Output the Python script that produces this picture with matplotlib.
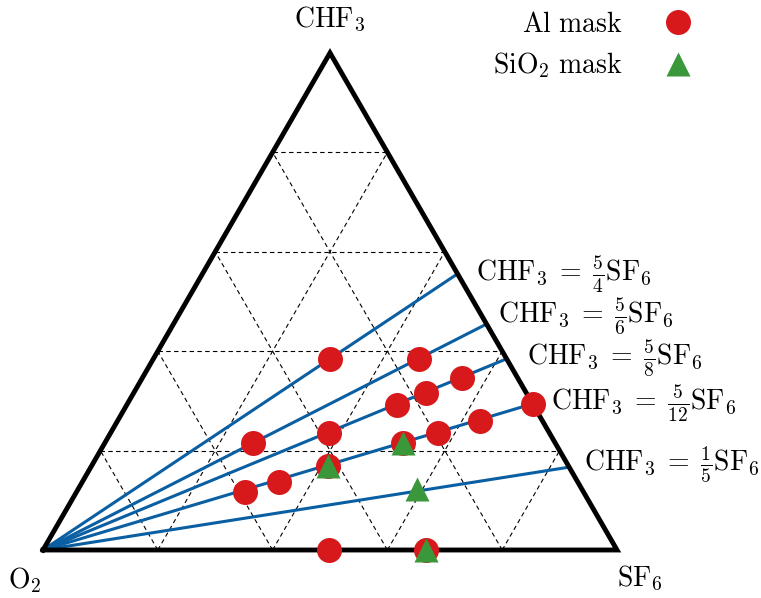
import matplotlib
matplotlib.use("Agg")
import matplotlib.pyplot as plt
import numpy as np

plt.rcParams['mathtext.fontset'] = 'cm'

# mole fractions (CHF3, SF6, O2)
al_chf3 = [0.385, 0.385, 0.347, 0.316, 0.292, 0.294, 0.260, 0.235, 0.215, 0.215, 0.235, 0.169, 0.137, 0.117, 0.0, 0.0]
al_sf6 = [0.308, 0.462, 0.556, 0.510, 0.470, 0.706, 0.632, 0.570, 0.520, 0.259, 0.380, 0.412, 0.343, 0.293, 0.498, 0.667]
sio2_chf3 = [0.215, 0.169, 0.123, 0.0]
sio2_sf6 = [0.520, 0.412, 0.590, 0.667]

ratio_values = [5/4, 5/6, 5/8, 5/12, 1/5]
ratio_labels = [r'\frac{5}{4}', r'\frac{5}{6}', r'\frac{5}{8}', r'\frac{5}{12}', r'\frac{1}{5}']
grid_steps = [0.2, 0.4, 0.6, 0.8]

# label offsets from the line ends, in pixels
label_offsets = [(18, 0), (11, 8), (20, 1), (18, 0), (15, 3)]

h = np.sqrt(3) / 2
FS = 20


def to_xy(chf3, sf6):
    chf3 = np.asarray(chf3, dtype=float)
    sf6 = np.asarray(sf6, dtype=float)
    return sf6 + chf3 / 2, chf3 * h


fig = plt.figure(figsize=(7.61, 5.98), dpi=100)
ax = fig.add_axes([0, 0, 1, 1])
ax.set_xlim(-43 / 574, (761 - 43) / 574)
ax.set_ylim(-48 / 574, (598 - 48) / 574)
ax.axis('off')

# dashed grid
for g in grid_steps:
    # constant CHF3
    x, y = to_xy([g, g], [0, 1 - g])
    ax.plot(x, y, color='black', ls=(0, (4, 3)), lw=0.8, zorder=1)
    # constant SF6
    x, y = to_xy([0, 1 - g], [g, g])
    ax.plot(x, y, color='black', ls=(0, (4, 3)), lw=0.8, zorder=1)
    # constant O2
    x, y = to_xy([0, 1 - g], [1 - g, 0])
    ax.plot(x, y, color='black', ls=(0, (4, 3)), lw=0.8, zorder=1)

# ratio lines from the O2 corner
for k, lab, off in zip(ratio_values, ratio_labels, label_offsets):
    s_end = 1 / (1 + k)
    c_end = k / (1 + k)
    x, y = to_xy([0, c_end], [0, s_end])
    ax.plot(x, y, color='#0a5fa3', lw=2.2, zorder=2)
    ax.annotate(r'$\mathrm{CHF}_3\;=\;' + lab + r'\mathrm{SF}_6$', xy=(x[1], y[1]),
                xytext=off, textcoords='offset pixels',
                fontsize=FS, va='center', ha='left', annotation_clip=False)

# outline
x, y = to_xy([0, 0, 1, 0], [0, 1, 0, 0])
ax.plot(x, y, color='black', lw=3.5, zorder=3, solid_joinstyle='miter')

x, y = to_xy(al_chf3, al_sf6)
ax.plot(x, y, 'o', color='#d7191c', ms=18, mec='none', zorder=4, label=r'$\mathrm{Al\ mask}$')
x, y = to_xy(sio2_chf3, sio2_sf6)
ax.plot(x, y, '^', color='#3a973a', ms=17, mec='none', zorder=5, label=r'$\mathrm{SiO_2\ mask}$')

ax.text(0.5, 0.925, r'$\mathrm{CHF}_3$', fontsize=FS, ha='center', va='center')
ax.text(-0.031, -0.052, r'$\mathrm{O}_2$', fontsize=FS, ha='center', va='center')
ax.text(1.04, -0.05, r'$\mathrm{SF}_6$', fontsize=FS, ha='center', va='center')

ax.legend(loc='upper right', bbox_to_anchor=(0.9425, 1.002), markerfirst=False, frameon=False,
          fontsize=FS, handletextpad=1.0, labelspacing=0.45, numpoints=1, borderaxespad=0.0)

fig.savefig('out.png', dpi=100)
